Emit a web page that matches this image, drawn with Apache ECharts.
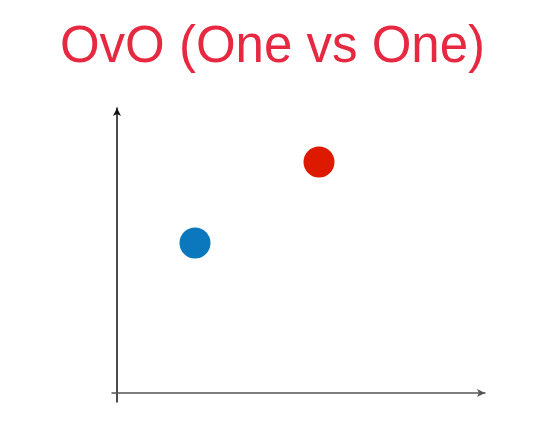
<!DOCTYPE html>
<html>
<head>
<meta charset="utf-8">
<script src="https://cdn.jsdelivr.net/npm/echarts@6/dist/echarts.min.js"></script>
<style>
  html, body { margin: 0; padding: 0; background: #fff; }
  #chart { width: 545px; height: 427px; }
</style>
</head>
<body>
<div id="chart"></div>
<script>
// two classes, one point each
var classNames = ['A', 'B'];
var classColors = ['#0B78BE', '#DD1A00'];
var classPoints = [[7.8, 15.0], [20.2, 23.1]];

var xRange = [-0.5, 36.8];
var yRange = [-0.9, 28.5];

var chart = echarts.init(document.getElementById('chart'));

var series = classNames.map(function (name, i) {
    return {
        name: name,
        type: 'scatter',
        symbolSize: 31,
        itemStyle: { color: classColors[i], opacity: 1 },
        data: [classPoints[i]]
    };
});

var option = {
    animation: false,
    title: {
        text: 'OvO (One vs One)',
        left: 'center',
        top: 17,
        textStyle: {
            color: '#E62840',
            fontSize: 51,
            fontWeight: 'normal',
            fontFamily: 'Liberation Sans'
        }
    },
    grid: {
        left: 112,
        right: 60,
        top: 108,
        bottom: 25
    },
    xAxis: {
        type: 'value',
        min: xRange[0],
        max: xRange[1],
        axisLine: {
            onZero: true,
            symbol: ['none', 'arrow'],
            symbolSize: [6, 8],
            lineStyle: { color: '#555', width: 1.5 }
        },
        axisTick: { show: false },
        axisLabel: { show: false },
        splitLine: { show: false }
    },
    yAxis: {
        type: 'value',
        min: yRange[0],
        max: yRange[1],
        axisLine: {
            onZero: true,
            symbol: ['none', 'arrow'],
            symbolSize: [6, 8],
            lineStyle: { color: '#111', width: 1.5 }
        },
        axisTick: { show: false },
        axisLabel: { show: false },
        splitLine: { show: false }
    },
    series: series
};
chart.setOption(option);
</script>
</body>
</html>
